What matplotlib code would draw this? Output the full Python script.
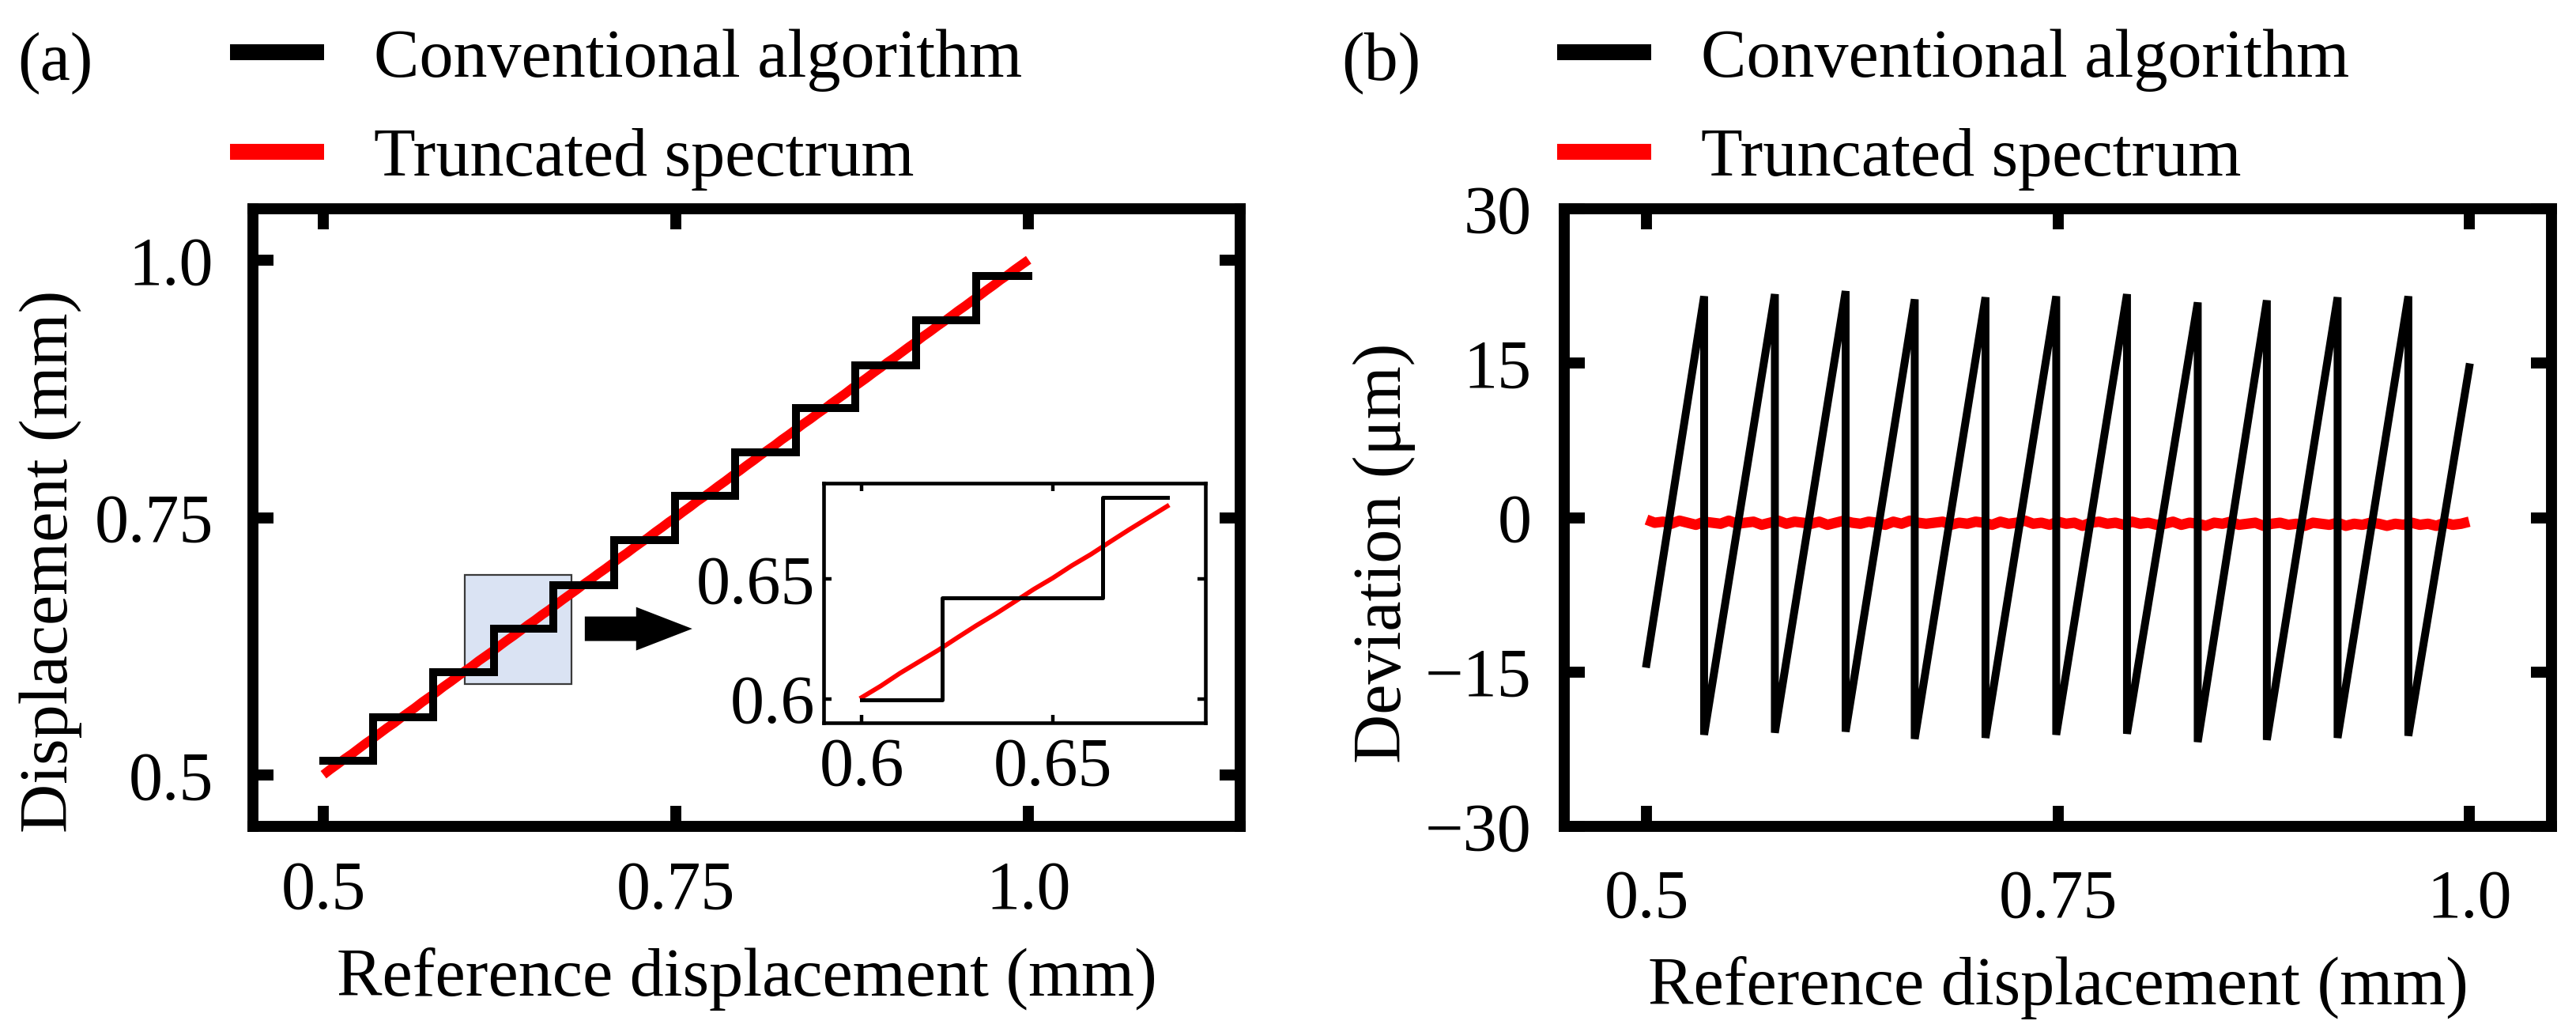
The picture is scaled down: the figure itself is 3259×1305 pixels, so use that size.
import numpy as np
import matplotlib
matplotlib.use("Agg")
import matplotlib.pyplot as plt
from matplotlib.patches import Rectangle, FancyArrow
from matplotlib.lines import Line2D

# ------------------------------------------------------------------ data
# Panel (a): conventional algorithm -> staircase output (mm)
step_edges = [0.500, 0.535, 0.578, 0.621, 0.663, 0.706, 0.749,
              0.792, 0.835, 0.877, 0.920, 0.963, 1.000]
step_levels = [0.5138, 0.5562, 0.5995, 0.6422, 0.6841, 0.7280,
               0.7708, 0.8135, 0.8565, 0.8980, 0.9418, 0.9850]

# Panel (b): deviation of conventional algorithm (um)
saw_jump_x = [0.535, 0.578, 0.621, 0.663, 0.706, 0.749,
              0.792, 0.835, 0.877, 0.920, 0.963]
saw_peaks = [21.5, 21.7, 22.0, 21.2, 21.4, 21.5, 21.7, 20.9, 21.1, 21.4, 21.5]
saw_troughs = [-21.1, -20.9, -20.8, -21.5, -21.4, -21.1, -21.0, -21.8, -21.6, -21.4, -21.2]
saw_start = (0.5, -14.2)
saw_end = (1.0, 14.6)

# Truncated spectrum deviation (um), sampled evenly from 0.5 to 1.0 mm
trunc_dev = [
    -0.2, -0.5, -0.4, -0.6, -0.3, -0.5, -0.7, -0.4, -0.5, -0.6,
    -0.3, -0.6, -0.5, -0.4, -0.7, -0.5, -0.3, -0.6, -0.4, -0.5,
    -0.6, -0.4, -0.7, -0.5, -0.3, -0.5, -0.6, -0.4, -0.5, -0.7,
    -0.4, -0.6, -0.3, -0.5, -0.6, -0.5, -0.4, -0.7, -0.5, -0.6,
    -0.4, -0.5, -0.7, -0.4, -0.6, -0.5, -0.3, -0.6, -0.5, -0.7,
    -0.4, -0.6, -0.5, -0.8, -0.5, -0.4, -0.6, -0.5, -0.7, -0.4,
    -0.6, -0.5, -0.7, -0.6, -0.4, -0.7, -0.5, -0.6, -0.8, -0.5,
    -0.6, -0.4, -0.7, -0.6, -0.5, -0.8, -0.6, -0.5, -0.7, -0.6,
    -0.8, -0.5, -0.6, -0.7, -0.5, -0.8, -0.6, -0.7, -0.5, -0.6,
    -0.8, -0.6, -0.7, -0.5, -0.7, -0.6, -0.8, -0.5, -0.7, -0.6, -0.4]
ref_start, ref_stop = 0.5, 1.0

# zoomed region shown in the inset
inset_range = (0.60, 0.68)
zoom_box = dict(x0=0.600, x1=0.676, y0=0.588, y1=0.694)

xticks = [0.5, 0.75, 1.0]
xticklabels = ["0.5", "0.75", "1.0"]
a_yticks = [0.5, 0.75, 1.0]
a_yticklabels = ["0.5", "0.75", "1.0"]
b_yticks = [-30, -15, 0, 15, 30]
b_yticklabels = ["\u221230", "\u221215", "0", "15", "30"]
in_ticks = [0.6, 0.65]
in_ticklabels = ["0.6", "0.65"]

labels = ["Conventional algorithm", "Truncated spectrum"]

# ------------------------------------------------------------------ style
plt.rcParams["font.family"] = ["Liberation Serif", "DejaVu Serif"]
plt.rcParams["axes.unicode_minus"] = True
FS = 62
W, H = 3259, 1305
RED = "#ff0000"

fig = plt.figure(figsize=(W / 100, H / 100), dpi=100)

def px_axes(l, t, r, b):
    return fig.add_axes([l / W, 1 - b / H, (r - l) / W, (b - t) / H])

ax1 = px_axes(320, 264, 1569, 1045)
ax2 = px_axes(1979, 264, 3228, 1045)


def style_main(ax, xpad, ypad):
    for s in ax.spines.values():
        s.set_linewidth(10)
    ax.tick_params(direction="in", length=19, width=10, top=True, right=True,
                   labelsize=FS)
    ax.tick_params(axis="x", pad=xpad)
    ax.tick_params(axis="y", pad=ypad)


# ---------------- panel (a)
trunc_x = np.linspace(ref_start, ref_stop, len(trunc_dev))
trunc_meas = trunc_x - np.array(trunc_dev) / 1000.0

ax1.add_patch(Rectangle((zoom_box["x0"], zoom_box["y0"]),
                        zoom_box["x1"] - zoom_box["x0"],
                        zoom_box["y1"] - zoom_box["y0"],
                        facecolor="#dae3f3", edgecolor="#3a3a3a", lw=1.6, zorder=1))
ax1.plot(trunc_x, trunc_meas, color=RED, lw=8.5, zorder=2, solid_capstyle="butt")
ax1.plot(step_edges, step_levels + [step_levels[-1]], drawstyle="steps-post",
         color="black", lw=7.2, zorder=3, solid_joinstyle="miter",
         solid_capstyle="projecting")
ax1.add_patch(FancyArrow(0.6853, 0.642, 0.0762, 0.0, width=0.0238,
                         head_width=0.0422, head_length=0.0398,
                         length_includes_head=True, color="black", lw=0, zorder=4))
ax1.set_xlim(0.45, 1.15)
ax1.set_ylim(0.45, 1.05)
ax1.set_xticks(xticks, xticklabels)
ax1.set_yticks(a_yticks, a_yticklabels)
style_main(ax1, 31, 36)
ax1.set_xlabel("Reference displacement (mm)", fontsize=FS, labelpad=22)
ax1.set_ylabel("Displacement (mm)", fontsize=FS)
ax1.yaxis.set_label_coords(-0.1733, 0.429)

# inset
axin = px_axes(1042, 611, 1525, 914)
lo, hi = inset_range
edges = np.array(step_edges)
levels = np.array(step_levels)
inner = edges[(edges > lo) & (edges < hi)]
ix = np.concatenate([[lo], inner, [hi]])
iy = levels[np.clip(np.searchsorted(edges, ix, side="right") - 1, 0, len(levels) - 1)]
m = (trunc_x >= lo - 1e-9) & (trunc_x <= hi + 1e-9)
axin.plot(trunc_x[m], trunc_meas[m], color=RED, lw=4.2, zorder=2)
axin.plot(ix, iy, drawstyle="steps-post", color="black", lw=3.6, zorder=3)
axin.set_xlim(0.59, 0.69)
axin.set_ylim(0.59, 0.69)
axin.set_xticks(in_ticks, in_ticklabels)
axin.set_yticks(in_ticks, in_ticklabels)
for s in axin.spines.values():
    s.set_linewidth(3.3)
axin.tick_params(direction="in", length=7, width=3.2, top=True, right=True,
                 labelsize=FS)
axin.tick_params(axis="x", pad=13)
axin.tick_params(axis="y", pad=8)

# ---------------- panel (b)
ax2.plot(trunc_x, trunc_dev, color=RED, lw=9.5, zorder=2, solid_capstyle="butt")
sx = [saw_start[0]]
sy = [saw_start[1]]
for xj, p, t in zip(saw_jump_x, saw_peaks, saw_troughs):
    sx += [xj, xj]
    sy += [p, t]
sx.append(saw_end[0])
sy.append(saw_end[1])
ax2.plot(sx, sy, color="black", lw=7.2, zorder=3, solid_joinstyle="bevel")
ax2.set_xlim(0.45, 1.05)
ax2.set_ylim(-30, 30)
ax2.set_xticks(xticks, xticklabels)
ax2.set_yticks(b_yticks, b_yticklabels)
style_main(ax2, 39, 30)
ax2.set_xlabel("Reference displacement (mm)", fontsize=FS, labelpad=22)
ax2.set_ylabel("Deviation (\u03bcm)", fontsize=FS)
ax2.yaxis.set_label_coords(-0.1509, 0.442)

# ---------------- legends and panel letters
handles = [Line2D([], [], color="black", lw=14.5, solid_capstyle="butt"),
           Line2D([], [], color=RED, lw=14.5, solid_capstyle="butt")]
for ax, hx in ((ax1, 291), (ax2, 1970)):
    ax.legend(handles, labels, loc="upper left",
              bbox_to_anchor=(hx / W, 1 - 36 / H), bbox_transform=fig.transFigure,
              frameon=False, fontsize=FS, handlelength=1.38, handletextpad=0.73,
              labelspacing=0.53, borderpad=0, borderaxespad=0)

fig.text(22 / W, 1 - 100 / H, "(a)", fontsize=FS, ha="left", va="baseline")
fig.text(1697 / W, 1 - 100 / H, "(b)", fontsize=FS, ha="left", va="baseline")

fig.savefig("out.png", dpi=100)
